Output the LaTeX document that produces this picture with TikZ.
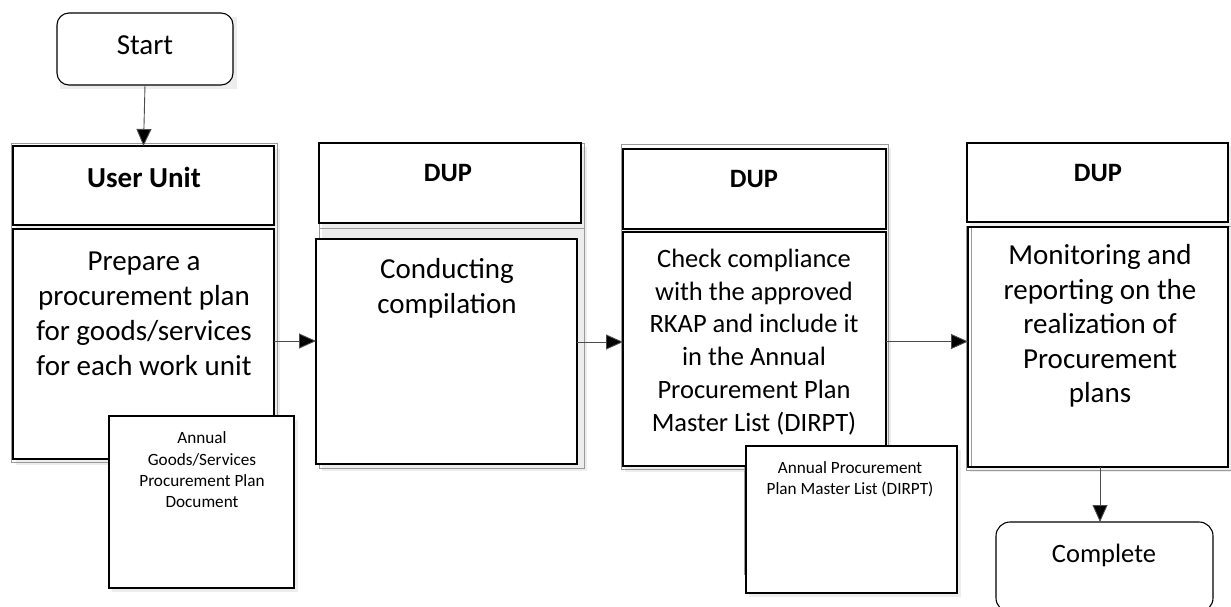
\documentclass[tikz,border=0pt]{standalone}
\usepackage{fontspec}
\setmainfont{Carlito}
\usetikzlibrary{arrows.meta}
\tikzset{
  box/.style={draw=black, line width=1.3pt, fill=white, inner sep=0pt, outer sep=0pt},
  term/.style={box, line width=1.1pt, rounded corners=12pt},
  frame/.style={draw=black!40, line width=0.8pt},
  arr/.style={draw=black!70, line width=0.9pt, -{Triangle[length=17pt,width=15pt,fill=black]}},
  big/.style={font=\fontsize{29}{35}\selectfont, align=center, inner sep=0pt},
  head/.style={font=\fontsize{26.5}{34}\selectfont\bfseries, inner sep=0pt},
  small/.style={font=\fontsize{17.2}{21.3}\selectfont, align=center, inner sep=0pt},
}
\begin{document}
\begin{tikzpicture}[x=1pt,y=-1pt]
\useasboundingbox[fill=white] (0,0) rectangle (1231,607);

% shadows / gray frames
\fill[black!7] (16,149) rectangle (280,465);
\draw[frame] (11,143) rectangle (277,462);
\fill[black!7] (322,147) rectangle (587,471);
\draw[frame] (319,143) rectangle (584,468);
\draw[frame] (319,228) -- (584,228);
\fill[black!7] (625,148) rectangle (891,472);
\draw[frame] (621,144) rectangle (888,469);
\fill[black!7] (970,146) rectangle (1235,472);
\draw[frame] (966,226) rectangle (1233,470);
\fill[black!7] (60,17) rectangle (237,89);
\fill[black!7] (112,420) rectangle (298,592);
\fill[black!7] (749,450) rectangle (961,597);
\draw[frame] (744,462) -- (744,575);

% terminals
\node[term, minimum width=176pt, minimum height=72pt] (start) at (145,49) {};
\node[font=\fontsize{29}{35}\selectfont, inner sep=0pt] (startt) at (145,45) {Start};

% lane 1
\node[box, minimum width=261pt, minimum height=79pt] (h1) at (143.5,185.5) {};
\node[box, minimum width=261pt, minimum height=230pt] (b1) at (143.5,344) {};
\node[head, font=\fontsize{29}{35}\selectfont\bfseries] (h1t) at (144,177) {User Unit};
\node[big] (b1t) at (144,314) {Prepare a\\procurement plan\\for goods/services\\for each work unit};

% lane 2
\node[box, minimum width=262pt, minimum height=80pt] (h2) at (450,183) {};
\node[box, minimum width=261pt, minimum height=225pt] (b2) at (446.5,351.5) {};
\node[head] (h2t) at (448,173) {DUP};
\node[big] (b2t) at (447,288) {Conducting\\compilation};

% lane 3
\node[box, minimum width=263pt, minimum height=80pt] (h3) at (754.5,189) {};
\node[box, minimum width=263pt, minimum height=234pt] (b3) at (754.5,349) {};
\node[head] (h3t) at (754,179) {DUP};
\node[big, font=\fontsize{26.5}{32.8}\selectfont] (b3t) at (754,342) {Check compliance\\with the approved\\RKAP and include it\\in the Annual\\Procurement Plan\\Master List (DIRPT)};

% lane 4
\node[box, minimum width=261pt, minimum height=79pt] (h4) at (1097.5,182.5) {};
\node[box, minimum width=260pt, minimum height=240pt] (b4) at (1098,347) {};
\draw[frame] (971,228) -- (971,466);
\node[head] (h4t) at (1098,173) {DUP};
\node[big, font=\fontsize{29}{34.5}\selectfont] (b4t) at (1100,326) {Monitoring and\\reporting on the\\realization of\\Procurement\\plans};

% documents
\node[box, line width=1.1pt, minimum width=185pt, minimum height=172pt] (d1) at (201.5,502) {};
\node[small] (d1t) at (202,470) {Annual\\Goods/Services\\Procurement Plan\\Document};
\node[box, line width=1.1pt, minimum width=211pt, minimum height=147pt] (d2) at (851.5,519.5) {};
\node[small] (d2t) at (850,479.5) {Annual Procurement\\Plan Master List (DIRPT)};

% complete
\node[term, minimum width=217pt, minimum height=90pt, rounded corners=14pt] (done) at (1104.5,567) {};
\node[font=\fontsize{26.5}{34}\selectfont, inner sep=0pt] (donet) at (1104,555) {Complete};

% connectors
\draw[arr] (start.south) -- (h1.north);
\draw[arr] ([yshift=3pt]b1.east) -- ([yshift=3pt]b1.east -| b2.west);
\draw[arr] ([yshift=9.5pt]b2.east) -- ([yshift=9.5pt]b2.east -| b3.west);
\draw[arr] ([yshift=7.5pt]b3.east) -- ([yshift=7.5pt]b3.east -| b4.west);
\draw[arr] ([xshift=2pt]b4.south) -- ([xshift=2pt]b4.south |- done.north);
\end{tikzpicture}
\end{document}
